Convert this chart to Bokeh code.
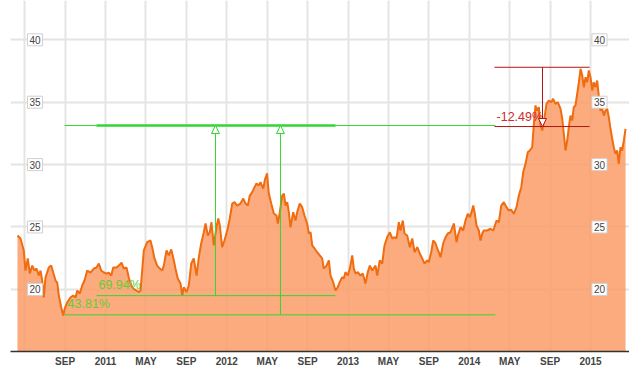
from bokeh.plotting import figure
from bokeh.models import ColumnDataSource, FixedTicker, Range1d, Arrow, NormalHead, Grid
from bokeh.core.properties import value
from bokeh.embed import file_html
from bokeh.resources import INLINE

# ---- price series (decimal year, close) ----
dates = [
    2010.274, 2010.299, 2010.326, 2010.340, 2010.359, 2010.376, 2010.396, 2010.414, 2010.431, 2010.450,
    2010.464, 2010.478, 2010.491, 2010.505, 2010.532, 2010.552, 2010.569, 2010.588, 2010.602, 2010.615,
    2010.635, 2010.651, 2010.664, 2010.684, 2010.711, 2010.734, 2010.753, 2010.767, 2010.788, 2010.808,
    2010.827, 2010.849, 2010.876, 2010.904, 2010.926, 2010.945, 2010.965, 2010.986, 2011.008, 2011.027,
    2011.047, 2011.064, 2011.091, 2011.110, 2011.132, 2011.151, 2011.173, 2011.192, 2011.212, 2011.228,
    2011.275, 2011.289, 2011.316, 2011.344, 2011.371, 2011.385, 2011.404, 2011.426, 2011.448, 2011.468,
    2011.481, 2011.503, 2011.522, 2011.542, 2011.558, 2011.577, 2011.596, 2011.619, 2011.633, 2011.646,
    2011.668, 2011.687, 2011.707, 2011.728, 2011.751, 2011.770, 2011.789, 2011.811, 2011.825, 2011.844,
    2011.860, 2011.874, 2011.893, 2011.915, 2011.930, 2011.943, 2011.962, 2011.981, 2012.004, 2012.025,
    2012.045, 2012.064, 2012.086, 2012.113, 2012.136, 2012.155, 2012.174, 2012.190, 2012.210, 2012.229,
    2012.245, 2012.264, 2012.278, 2012.301, 2012.315, 2012.332, 2012.347, 2012.367, 2012.388, 2012.410,
    2012.421, 2012.438, 2012.457, 2012.471, 2012.485, 2012.499, 2012.512, 2012.526, 2012.548, 2012.567,
    2012.581, 2012.602, 2012.622, 2012.641, 2012.663, 2012.677, 2012.691, 2012.705, 2012.724, 2012.746,
    2012.767, 2012.787, 2012.800, 2012.823, 2012.842, 2012.856, 2012.878, 2012.897, 2012.916, 2012.932,
    2012.952, 2012.965, 2012.979, 2012.998, 2013.015, 2013.035, 2013.048, 2013.062, 2013.081, 2013.103,
    2013.122, 2013.144, 2013.163, 2013.180, 2013.200,
    2013.227, 2013.241, 2013.262, 2013.282, 2013.301, 2013.323, 2013.345, 2013.365, 2013.384, 2013.400,
    2013.419, 2013.433, 2013.452, 2013.466, 2013.488, 2013.510, 2013.530, 2013.549, 2013.571, 2013.592,
    2013.612, 2013.631, 2013.653, 2013.666, 2013.686, 2013.703, 2013.722, 2013.736, 2013.749, 2013.763,
    2013.785, 2013.804, 2013.823, 2013.845, 2013.873, 2013.895, 2013.906, 2013.928, 2013.950, 2013.969,
    2013.988, 2014.005, 2014.019, 2014.033, 2014.046, 2014.060, 2014.079, 2014.093, 2014.107, 2014.120,
    2014.148, 2014.175, 2014.198,
    2014.225, 2014.244, 2014.264, 2014.285, 2014.307, 2014.326, 2014.346, 2014.367, 2014.390, 2014.409,
    2014.429, 2014.445, 2014.464, 2014.483, 2014.499, 2014.519, 2014.532, 2014.546, 2014.560, 2014.574,
    2014.588, 2014.602, 2014.615, 2014.637, 2014.656, 2014.676, 2014.692, 2014.711, 2014.730, 2014.753,
    2014.767, 2014.780, 2014.794, 2014.808, 2014.821, 2014.835, 2014.849, 2014.862, 2014.876, 2014.890,
    2014.904, 2014.918, 2014.932, 2014.945, 2014.959, 2014.973, 2014.986, 2015.000, 2015.014, 2015.027,
    2015.041, 2015.055, 2015.068, 2015.082, 2015.097, 2015.110, 2015.124, 2015.138, 2015.151, 2015.165,
    2015.179, 2015.192, 2015.206, 2015.220, 2015.233, 2015.247, 2015.261, 2015.275, 2015.289,
]
close = [
    24.32, 24.08, 23.12, 21.51, 22.48, 21.27, 21.91, 21.51, 21.67, 21.11,
    21.51, 20.71, 19.35, 20.95, 21.75, 21.91, 21.35, 20.71, 20.55, 19.51,
    18.55, 17.91, 18.47, 18.95, 19.35, 19.51, 19.35, 19.91, 19.67, 20.31,
    20.71, 21.51, 21.35, 21.67, 21.75, 22.07, 21.51, 21.35, 21.27, 21.35,
    21.11, 21.75, 21.75, 21.91, 22.15, 21.67, 21.75, 20.95, 20.31, 20.07,
    19.78, 19.91, 23.12, 23.78, 23.92, 23.38, 22.48, 21.91, 21.67, 21.51,
    21.91, 23.12, 22.72, 23.20, 22.58, 21.67, 20.87, 20.47, 19.51, 20.18,
    19.78, 20.31, 22.07, 22.48, 21.11, 22.58, 23.68, 24.58, 25.28, 24.32,
    24.58, 25.38, 23.52, 24.98, 25.68, 25.12, 23.38, 23.92, 24.72, 25.68,
    26.88, 26.99, 26.72, 26.88, 27.28, 26.88, 26.72, 27.52, 27.79, 28.19,
    28.49, 28.33, 28.59, 28.08, 28.81, 29.29, 27.68, 26.88, 26.08, 25.92,
    25.28, 26.19, 27.52, 27.68, 26.72, 26.99, 26.19, 24.98, 26.19, 25.52,
    26.19, 26.88, 26.59, 25.92, 25.28, 24.48, 24.58, 23.52, 23.28, 22.98,
    22.72, 22.48, 21.67, 21.91, 22.32, 21.11, 20.58, 19.91, 20.18, 20.58,
    20.98, 20.87, 21.38, 21.11, 21.67, 22.72, 21.67, 21.27, 21.38, 21.11,
    21.27, 20.47, 21.38, 21.91, 21.51,
    21.91, 21.11, 22.32, 22.07, 23.52, 24.18, 24.58, 24.08, 24.18, 24.08,
    25.38, 24.72, 25.52, 24.48, 24.32, 23.38, 24.08, 22.98, 23.38, 22.88,
    22.48, 22.07, 22.32, 22.18, 22.98, 23.92, 23.68, 23.28, 22.98, 22.58,
    23.68, 24.18, 24.48, 24.58, 25.28, 23.78, 24.32, 24.98, 24.72, 25.52,
    26.06, 25.79, 26.19, 26.72, 26.06, 25.12, 24.72, 23.92, 24.48, 24.72,
    24.72, 24.86, 24.72,
    25.52, 25.38, 26.72, 26.99, 26.59, 26.32, 26.38, 26.06, 26.59, 27.52,
    28.19, 29.39, 30.06, 30.99, 31.13, 31.39, 33.13, 34.74, 34.33, 34.60,
    33.13, 32.73, 33.40, 34.87, 35.14, 35.00, 35.27, 34.87, 35.00, 34.47,
    33.67, 32.47, 31.13, 31.93, 33.00, 33.93, 33.53, 34.60, 34.74, 35.67,
    36.60, 37.68, 37.14, 36.20, 37.00, 36.60, 37.54, 37.00, 35.94, 36.60,
    36.20, 36.74, 35.54, 34.33, 34.47, 33.93, 34.33, 34.47, 33.80, 32.87,
    32.07, 31.39, 30.87, 31.13, 30.06, 31.39, 31.13, 31.93, 32.87,
]

# ---- axes ----
y_ticks = [20, 25, 30, 35, 40]
tick_year = [2010, 2011, 2011, 2011, 2012, 2012, 2012, 2013, 2013, 2013, 2014, 2014, 2014, 2015]
tick_month = [9, 1, 5, 9, 1, 5, 9, 1, 5, 9, 1, 5, 9, 1]
tick_labels = ["SEP", "2011", "MAY", "SEP", "2012", "MAY", "SEP", "2013", "MAY", "SEP",
               "2014", "MAY", "SEP", "2015"]
grid_start = (2010, 5)

# ---- annotations ----
peak_level = 33.13
gain_lows = [19.50, 17.96]
gain_labels = ["69.94%", "43.81%"]
gain_from = [2010.926, 2010.662]     # start dates of the low lines
gain_to = [2012.897, 2014.216]       # end dates of the low lines
gain_arrow_dates = [2011.907, 2012.443]
gain_label_pos = [(2010.942, 20.39), (2010.687, 18.83)]
drop_high = 37.80
drop_low = 33.05
drop_label = "-12.49%"
drop_span = (2014.208, 2014.992)
drop_arrow_date = 2014.604
drop_label_pos = (2014.225, 33.85)

GREEN = "#33d633"
GREEN_TXT = "#66cc33"
RED = "#b01515"
RED_TXT = "#d02a2a"


def dec(y, m):
    return round(y + (m - 1) / 12.0, 6)


x_ticks = [dec(y, m) for y, m in zip(tick_year, tick_month)]
grid_ticks = [dec(*grid_start)] + x_ticks

p = figure(frame_width=619, frame_height=351,
           x_range=Range1d(2010.2165, 2015.3216), y_range=Range1d(15.024, 43.149),
           output_backend="svg", toolbar_location=None, y_axis_location=None,
           min_border_left=10, min_border_right=0, min_border_top=0, min_border_bottom=0)
p.outline_line_color = None
p.background_fill_color = "white"
p.border_fill_color = "white"

for g in p.ygrid:
    g.visible = False
p.xgrid.ticker = FixedTicker(ticks=grid_ticks)
p.xgrid.grid_line_color = "#e4e4e4"
p.xgrid.grid_line_width = 2
p.add_layout(Grid(dimension=1, ticker=FixedTicker(ticks=y_ticks),
                  grid_line_color="#e4e4e4", grid_line_width=2))

ax = p.xaxis[0]
ax.ticker = FixedTicker(ticks=x_ticks)
ax.major_label_overrides = {t: l for t, l in zip(x_ticks, tick_labels)}
ax.major_tick_in = 0
ax.major_tick_out = 0
ax.minor_tick_in = 0
ax.minor_tick_out = 0
ax.axis_line_color = "#333333"
ax.axis_line_width = 1.5
ax.major_label_text_font = "Liberation Sans"
ax.major_label_text_font_style = "bold"
ax.major_label_text_font_size = "10px"
ax.major_label_text_color = "#444444"
ax.major_label_standoff = 4

src = ColumnDataSource(dict(x=dates, y=close))
p.varea(x="x", y1=0, y2="y", source=src, fill_color="#fa9c67", fill_alpha=0.85)
p.line(x="x", y="y", source=src, line_color="#f06c10", line_width=2)

# green gain annotation
p.segment(x0=[gain_from[1], gain_from[0], gain_from[1]],
          y0=[peak_level, gain_lows[0], gain_lows[1]],
          x1=[gain_to[1], gain_to[0], gain_to[1]],
          y1=[peak_level, gain_lows[0], gain_lows[1]],
          line_color=GREEN, line_width=1)
p.segment(x0=[gain_from[0]], y0=[peak_level], x1=[gain_to[0]], y1=[peak_level],
          line_color=GREEN, line_width=2.5)
for xd, lo in zip(gain_arrow_dates, gain_lows):
    p.add_layout(Arrow(end=NormalHead(size=8, fill_color="white", line_color=GREEN, line_width=1),
                       x_start=xd, y_start=lo, x_end=xd, y_end=peak_level,
                       line_color=GREEN, line_width=1))
p.text(x=[q[0] for q in gain_label_pos], y=[q[1] for q in gain_label_pos], text=gain_labels,
       text_font=value("Liberation Sans"), text_font_size="12.5px", text_color=GREEN_TXT,
       text_align="left", text_baseline="middle")

# red drop annotation
p.segment(x0=[drop_span[0], drop_span[0]], y0=[drop_high, drop_low],
          x1=[drop_span[1], drop_span[1]], y1=[drop_high, drop_low],
          line_color=RED, line_width=1)
p.add_layout(Arrow(end=NormalHead(size=8, fill_color="white", line_color=RED, line_width=1),
                   x_start=drop_arrow_date, y_start=drop_high, x_end=drop_arrow_date, y_end=drop_low,
                   line_color=RED, line_width=1))
p.text(x=[drop_label_pos[0]], y=[drop_label_pos[1]], text=[drop_label],
       text_font=value("Liberation Sans"), text_font_size="12.5px", text_color=RED_TXT,
       text_align="left", text_baseline="middle")

# boxed y labels on both sides
lab_src = ColumnDataSource(dict(y=y_ticks, t=[str(v) for v in y_ticks]))
for xpos in (2010.4186, 2015.074):
    p.text(x=xpos, y="y", text="t", source=lab_src,
           text_font=value("Liberation Sans"), text_font_size="10px", text_color="#444444",
           text_align="center", text_baseline="middle",
           background_fill_color="white", border_line_color="#d0d0d0", padding=2)

open("out.html", "w").write(file_html(p, INLINE))
